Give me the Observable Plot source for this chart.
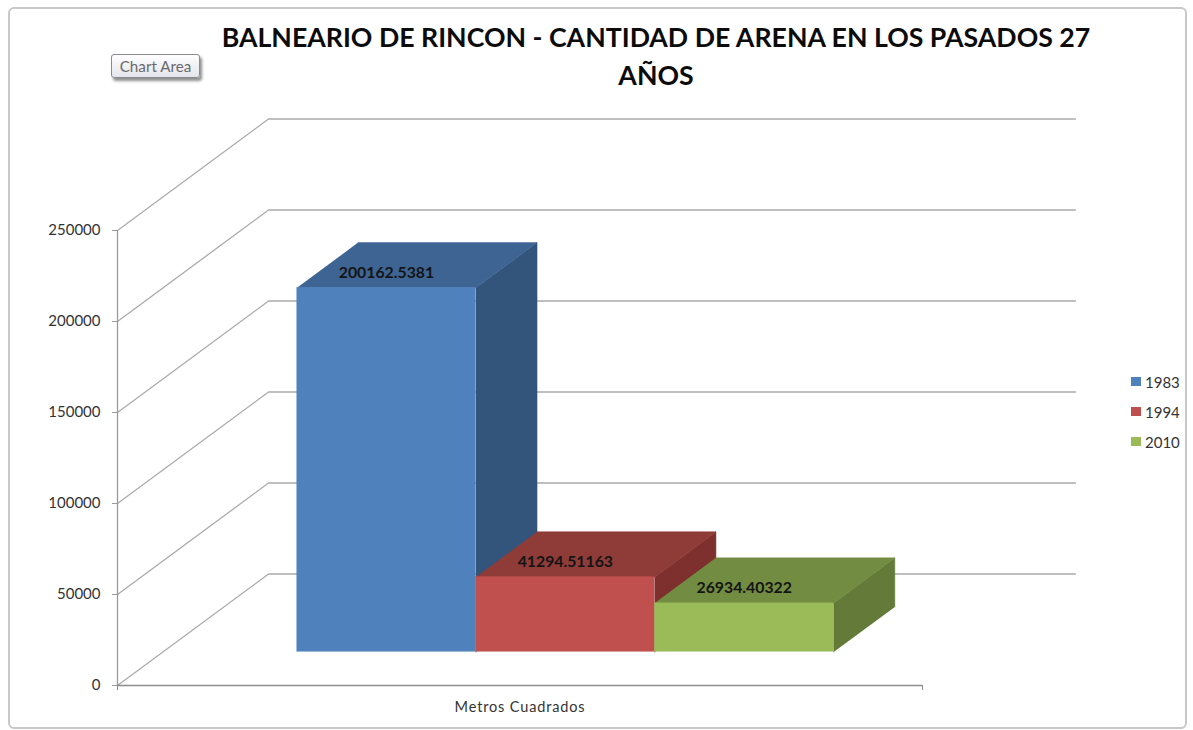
<!DOCTYPE html>
<html lang="es">
<head>
<meta charset="utf-8">
<script src="https://cdn.jsdelivr.net/npm/d3@7"></script>
<script src="https://cdn.jsdelivr.net/npm/@observablehq/plot@0.6"></script>
<style>
  html, body { margin: 0; padding: 0; background: #fff; }
  body { width: 1193px; height: 730px; position: relative; overflow: hidden; font-family: Lato, "Noto Sans", sans-serif; }
  #frame { position: absolute; left: 8px; top: 7px; width: 1175px; height: 718px; border: 2px solid #c8c8c8; border-radius: 6px; box-sizing: content-box; }
  #chart { position: absolute; left: 0; top: 0; }
  #chart svg { background: transparent; display: block; }
  #chart g[aria-label="x-axis tick label"] text { letter-spacing: 0.85px; }
  #title { position: absolute; left: 156px; width: 1000px; padding: 0 25px; box-sizing: border-box; top: 18px; text-align: center; font: 700 26.7px/38px Lato, sans-serif; color: #0c0c0c; margin: 0; }
  #tip { position: absolute; left: 111px; top: 54px; width: 89px; height: 24px; box-sizing: border-box; border: 1px solid #8a8a92; border-radius: 3px; background: linear-gradient(#ffffff, #e4e4ec); box-shadow: 2px 3px 3px #8f8f8f; font: 15.2px/22px Lato, sans-serif; color: #6a6a6a; text-align: center; }
  #legend { position: absolute; left: 1131px; top: 372px; }
  .item { position: absolute; left: 0; height: 20px; white-space: nowrap; font: 15px/20px Lato, sans-serif; color: #333; }
  .item i { position: absolute; left: 0; top: 5px; width: 10px; height: 9px; }
  .item span { position: absolute; left: 14px; top: 0; }
</style>
</head>
<body>
<div id="frame"></div>
<div id="chart"></div>
<h1 id="title">BALNEARIO DE RINCON - CANTIDAD DE ARENA EN LOS PASADOS 27<br>AÑOS</h1>
<div id="tip">Chart Area</div>
<div id="legend"></div>
<script>
const years = ["1983", "1994", "2010"];
const values = [200162.5381, 41294.51163, 26934.40322];
const labels = ["200162.5381", "41294.51163", "26934.40322"];
const category = "Metros Cuadrados";
const yTicks = [0, 50000, 100000, 150000, 200000, 250000];
const frontColors = ["#4f81bd", "#c0504d", "#9bbb59"];
const topColors = ["#3e6494", "#8f3b38", "#728c41"];
const sideColors = ["#33557c", "#7e302e", "#647a38"];

// Oblique projection of the 3D box: depth d in [0, 1] shifts x and y in data units.
const depthX = 0.1876;
const depthY = 61264;
const xEnd = 1.19;
const gap = 1 / 6;
const barWidth = 2 / 9;
const dFront = 0.3;
const dBack = 0.705;
const px = (u, d) => u + d * depthX;
const py = (v, d) => v + d * depthY;
const pt = (u, v, d) => ({x: px(u, d), y: py(v, d)});

const walls = yTicks.map(t => [pt(0, t, 0), pt(0, t, 1), {x: xEnd, y: py(t, 1)}]);
const bars = years.map((year, i) => {
  const a = gap + i * barWidth, b = a + barWidth, v = values[i];
  return {
    year, label: labels[i], v, cx: px((a + b) / 2, dFront), x1: px(a, dFront), x2: px(b, dFront), y1: py(0, dFront), y2: py(v, dFront),
    front: frontColors[i],
    topFace: {pts: [pt(a, v, dFront), pt(b, v, dFront), pt(b, v, dBack), pt(a, v, dBack)], color: topColors[i]},
    sideFace: {pts: [pt(b, 0, dFront), pt(b, v, dFront), pt(b, v, dBack), pt(b, 0, dBack)], color: sideColors[i]}
  };
});

const grid = "#ababab";
const chart = Plot.plot({
  width: 1193,
  height: 730,
  marginLeft: 117,
  marginRight: 118,
  marginTop: 118.5,
  marginBottom: 45,
  style: {background: "transparent", fontFamily: "Lato, sans-serif"},
  x: {domain: [0, xEnd], axis: null},
  y: {domain: [0, 250000 + depthY], axis: null},
  marks: [
    ...walls.map(w => Plot.line(w, {x: "x", y: "y", stroke: grid, strokeWidth: 1.3})),
    Plot.ruleX([0], {y1: 0, y2: 250000, stroke: "#9a9a9a", strokeWidth: 1.3}),
    Plot.ruleY([0], {x1: 0, x2: 1, stroke: "#8c8c8c", strokeWidth: 1.3}),
    Plot.axisY({ticks: yTicks, tickFormat: d => String(d), tickSize: 5, tickPadding: 12, label: null, stroke: "#9a9a9a", fontSize: 15, color: "#333"}),
    Plot.axisX({ticks: [0, 1], tickFormat: () => "", tickSize: 5, label: null, stroke: "#8c8c8c"}),
    Plot.axisX({ticks: [0.5], tickFormat: () => category, tickSize: 0, tickPadding: 16, label: null, fontSize: 14.5, color: "#333"}),
    ...bars.flatMap(b => [
      Plot.line(b.sideFace.pts, {x: "x", y: "y", fill: b.sideFace.color, stroke: b.sideFace.color, strokeWidth: 0.5}),
      Plot.line(b.topFace.pts, {x: "x", y: "y", fill: b.topFace.color, stroke: b.topFace.color, strokeWidth: 0.5}),
      Plot.rect([b], {x1: "x1", x2: "x2", y1: "y1", y2: "y2", fill: b.front})
    ]),
    Plot.text(bars, {x: "cx", y: "y2", text: "label", dy: -15, fontSize: 15.8, fontWeight: 700, fill: "#141414"})
  ]
});
document.getElementById("chart").append(chart);

const legend = document.getElementById("legend");
years.forEach((year, i) => {
  const item = document.createElement("div");
  item.className = "item";
  item.style.top = (i * 30) + "px";
  const sw = document.createElement("i");
  sw.style.background = frontColors[i];
  const tx = document.createElement("span");
  tx.textContent = year;
  item.append(sw, tx);
  legend.append(item);
});
</script>
</body>
</html>
